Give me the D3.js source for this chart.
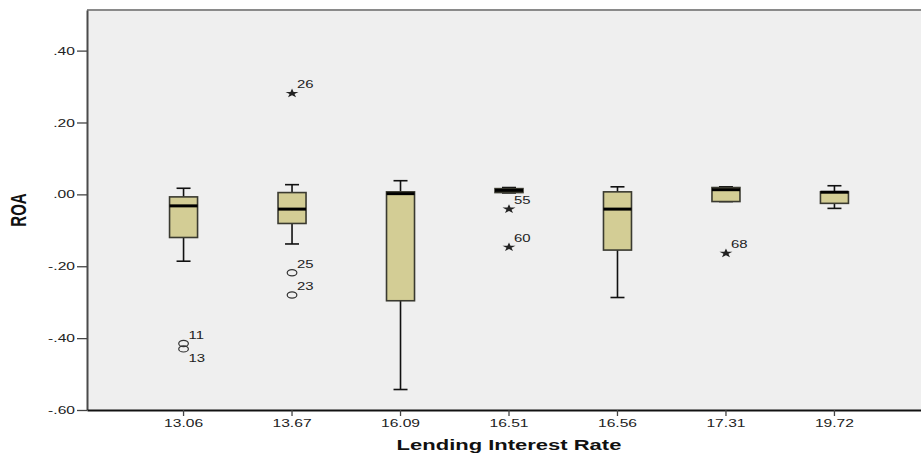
<!DOCTYPE html>
<html>
<head>
<meta charset="utf-8">
<script src="https://cdn.jsdelivr.net/npm/d3@7/dist/d3.min.js"></script>
<style>
  html, body { margin: 0; padding: 0; background: #fff; }
  svg { display: block; }
  text { font-family: "Liberation Sans", Arial, sans-serif; }
</style>
</head>
<body>
<svg id="chart" width="921" height="455"></svg>
<script>
// Lending interest rate groups (x categories)
const categories = ["13.06", "13.67", "16.09", "16.51", "16.56", "17.31", "19.72"];

// Box statistics of ROA for each group
const whiskerLow  = [-0.186, -0.138, -0.543, 0.004, -0.287, -0.020, -0.039];
const q1          = [-0.120, -0.081, -0.296, 0.005, -0.155, -0.020, -0.025];
const medians     = [-0.032, -0.041,  0.002, 0.011, -0.041,  0.013,  0.006];
const q3          = [-0.007,  0.005,  0.007, 0.016,  0.007,  0.019,  0.007];
const whiskerHigh = [ 0.017,  0.027,  0.038, 0.019,  0.021,  0.021,  0.024];

// Outlying cases: group, ROA value, type, case number
const outlierGroup = ["13.06", "13.06", "13.67", "13.67", "13.67", "16.51", "16.51", "17.31"];
const outlierValue = [-0.415, -0.430, 0.281, -0.218, -0.280, -0.041, -0.147, -0.164];
const outlierType  = ["circle", "circle", "extreme", "circle", "circle", "extreme", "extreme", "extreme"];
const outlierCase  = ["11", "13", "26", "25", "23", "55", "60", "68"];

const yTicks = [0.4, 0.2, 0.0, -0.2, -0.4, -0.6];

// the whole figure uses a horizontally widened type and marker style
const WIDE = 1.42;

const svg = d3.select("#chart");
const plot = { left: 87, right: 931, top: 10, bottom: 410 };

const x = d3.scaleBand()
  .domain(categories)
  .range([plot.left, plot.right])
  .paddingOuter(0.39)
  .paddingInner(0);
const y = d3.scaleLinear()
  .domain([-0.6, 0.513])
  .range([plot.bottom, plot.top]);

const cx = c => x(c) + x.bandwidth() / 2;

// widen axis tick labels in place, keeping their anchor point
function widen(sel) {
  sel.each(function () {
    const t = d3.select(this);
    const x0 = +t.attr("x") || 0;
    t.attr("x", x0 / WIDE).attr("transform", `scale(${WIDE},1)`);
  });
}

// plot background
svg.append("rect")
  .attr("x", plot.left).attr("y", plot.top)
  .attr("width", plot.right - plot.left).attr("height", plot.bottom - plot.top)
  .attr("fill", "#efefef");
svg.append("line")
  .attr("x1", plot.left).attr("x2", plot.right)
  .attr("y1", plot.top).attr("y2", plot.top)
  .attr("stroke", "#8a8a8a").attr("stroke-width", 2);

// y axis: two decimals, no leading zero, plain hyphen for negatives
const locale = d3.formatLocale({ decimal: ".", thousands: ",", grouping: [3], currency: ["", ""], minus: "-" });
const fmt = v => locale.format(".2f")(v).replace(/^(-?)0\./, "$1.");
const yAxis = d3.axisLeft(y).tickValues(yTicks).tickFormat(fmt)
  .tickSize(10).tickSizeOuter(0).tickPadding(2);
const gy = svg.append("g").attr("transform", `translate(${plot.left},0)`).call(yAxis);
gy.select(".domain").attr("stroke", "#4a4a4a").attr("stroke-width", 2);
gy.selectAll(".tick line").attr("stroke", "#444").attr("stroke-width", 1.3);
gy.selectAll(".tick text").attr("font-size", 11).attr("fill", "#222").call(widen);

// x axis
const xAxis = d3.axisBottom(x).tickSize(6).tickPadding(3).tickSizeOuter(0);
const gx = svg.append("g").attr("transform", `translate(0,${plot.bottom})`).call(xAxis);
gx.select(".domain").attr("stroke", "#111").attr("stroke-width", 2);
gx.selectAll(".tick line").attr("stroke", "#444").attr("stroke-width", 1.3);
gx.selectAll(".tick text").attr("font-size", 11).attr("fill", "#222").call(widen);

// axis titles
svg.append("text")
  .attr("transform", `translate(${(plot.left + plot.right) / 2},450) scale(${WIDE},1)`)
  .attr("text-anchor", "middle").attr("font-size", 15.5).attr("font-weight", "bold")
  .attr("fill", "#111").text("Lending Interest Rate");
svg.append("text")
  .attr("transform", `translate(26,${(plot.top + plot.bottom) / 2}) rotate(-90) scale(1,${WIDE})`)
  .attr("text-anchor", "middle").attr("font-size", 15).attr("font-weight", "bold")
  .attr("fill", "#111").text("ROA");

// box plots
const boxW = 28, capW = 14;
const boxes = svg.append("g");
categories.forEach((c, i) => {
  const g = boxes.append("g");
  const xc = cx(c);
  // whiskers
  g.append("line").attr("x1", xc).attr("x2", xc)
    .attr("y1", y(whiskerHigh[i])).attr("y2", y(q3[i]))
    .attr("stroke", "#111").attr("stroke-width", 1.6);
  g.append("line").attr("x1", xc).attr("x2", xc)
    .attr("y1", y(q1[i])).attr("y2", y(whiskerLow[i]))
    .attr("stroke", "#111").attr("stroke-width", 1.6);
  [whiskerHigh[i], whiskerLow[i]].forEach(v => {
    g.append("line").attr("x1", xc - capW / 2).attr("x2", xc + capW / 2)
      .attr("y1", y(v)).attr("y2", y(v))
      .attr("stroke", "#111").attr("stroke-width", 1.6);
  });
  // box
  g.append("rect")
    .attr("x", xc - boxW / 2).attr("y", y(q3[i]))
    .attr("width", boxW).attr("height", Math.max(0.5, y(q1[i]) - y(q3[i])))
    .attr("fill", "#d3cd95").attr("stroke", "#3a3a30").attr("stroke-width", 1.6);
  // median
  g.append("line").attr("x1", xc - boxW / 2).attr("x2", xc + boxW / 2)
    .attr("y1", y(medians[i])).attr("y2", y(medians[i]))
    .attr("stroke", "#000").attr("stroke-width", 3);
});

// outliers
const star = d3.symbol().type(d3.symbolStar).size(26);
const og = svg.append("g");
outlierValue.forEach((v, i) => {
  const grp = outlierGroup[i];
  const xc = cx(grp);
  const yv = y(v);
  if (outlierType[i] === "circle") {
    og.append("ellipse").attr("cx", xc).attr("cy", yv).attr("rx", 3.4 * WIDE).attr("ry", 3.1)
      .attr("fill", "none").attr("stroke", "#333").attr("stroke-width", 1.2);
  } else {
    og.append("path").attr("d", star)
      .attr("transform", `translate(${xc},${yv}) scale(${WIDE},1)`)
      .attr("fill", "#222");
  }
  // a case sitting just under another case of the same group gets its label below
  const above = outlierValue.some((w, j) => j !== i && outlierGroup[j] === grp && w > v && (w - v) < 0.03);
  og.append("text")
    .attr("transform", `translate(${xc + 5},${above ? yv + 13 : yv - 5}) scale(${WIDE},1)`)
    .attr("font-size", 10.5).attr("fill", "#222")
    .text(outlierCase[i]);
});
</script>
</body>
</html>
